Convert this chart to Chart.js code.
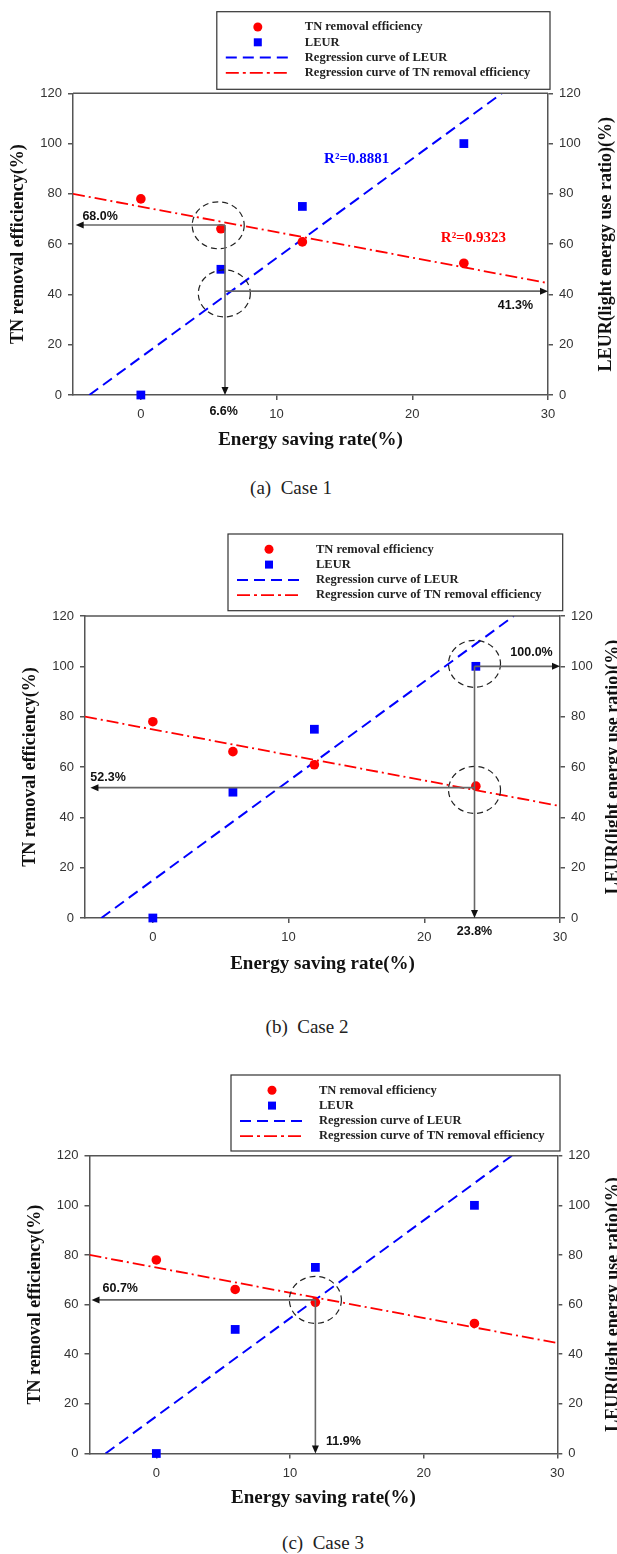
<!DOCTYPE html>
<html>
<head>
<meta charset="utf-8">
<title>TN removal efficiency and LEUR vs energy saving rate</title>
<script src="https://cdn.jsdelivr.net/npm/chart.js@4.4.1/dist/chart.umd.min.js"></script>
<style>
  html, body { margin: 0; padding: 0; background: #fff; }
  body { position: relative; width: 617px; height: 1554px; overflow: hidden; }
  canvas { position: absolute; left: 0; }
  .caption {
    position: absolute;
    transform: translate(-50%, -50%);
    font-family: "Liberation Serif", serif;
    font-size: 19px;
    color: #222;
    white-space: nowrap;
  }
</style>
</head>
<body>
<canvas id="case1" width="617" height="470" style="top:0px"></canvas>
<canvas id="case2" width="617" height="470" style="top:520px"></canvas>
<canvas id="case3" width="617" height="470" style="top:1060px"></canvas>
<div class="caption" style="left:291px;top:488px">(a)&nbsp;&nbsp;Case 1</div>
<div class="caption" style="left:307px;top:1027px">(b)&nbsp;&nbsp;Case 2</div>
<div class="caption" style="left:323px;top:1543px">(c)&nbsp;&nbsp;Case 3</div>
<script>
"use strict";

// measured points (same in all three cases)
const energySaving = [0, 5.9, 11.9, 23.8];
const tnRemoval = [78, 66.1, 60.9, 52.4];
const leurValues = [0, 50, 75, 100];

// regression lines, end points
const leurFitX = [-3.8, 26.6];
const leurFitY = [0, 120];
const tnFitX = [-5, 30];
const tnFitY = [80, 44.5];

const xTickValues = [0, 10, 20, 30];
const yTickValues = [0, 20, 40, 60, 80, 100, 120];

const legendLabels = ["TN removal efficiency", "LEUR", "Regression curve of LEUR", "Regression curve of TN removal efficiency"];
const xTitle = "Energy saving rate(%)";
const yTitle = "TN removal efficiency(%)";
const y2Title = "LEUR(light energy use ratio)(%)";

// guide arrows [x from, y from, x to, y to], circles [x, y], labels [text, x, y] (axis units)
const case1Arrows = [[6.2, 67.6, 6.2, 0], [6.2, 67.6, -4.8, 67.6], [6.2, 41.3, 30, 41.3]];
const case1Circles = [[5.7, 67.5], [6.15, 40.4]];
const case1Labels = [["68.0%", -3.0, 71.1], ["6.6%", 6.1, -6.4], ["41.3%", 27.6, 35.4]];
const case1Fits = [["R²=0.8881", 15.9, 93.8], ["R²=0.9323", 24.5, 62.4]];

const case2Arrows = [[23.7, 100, 23.7, 0], [23.7, 100, 30, 100], [23.7, 51.8, -4.6, 51.8]];
const case2Circles = [[23.7, 101], [23.7, 50.9]];
const case2Labels = [["100.0%", 27.9, 105.6], ["52.3%", -3.3, 56.0], ["23.8%", 23.7, -5.4]];

const case3Arrows = [[11.9, 61.9, 11.9, 0], [11.9, 61.9, -4.85, 61.9]];
const case3Circles = [[11.9, 61.9]];
const case3Labels = [["60.7%", -2.7, 66.6], ["11.9%", 14.0, 5.0]];

const red = "#ff0000";
const blue = "#0000ff";
const axisColor = "#555";
const serif = "'Liberation Serif', 'Times New Roman', serif";
const sans = "'Liberation Sans', Arial, sans-serif";
const canvasH = 470;

Chart.defaults.font.family = sans;

// plot box in canvas pixels, per panel
const panels = [
    { id: "case1", top: 93.3, bottom: 395, left: 73, right: 548, yTitleX: 18, y2TitleX: 606.7, xTitleY: 440,
      legend: [216.8, 11.7, 550, 89.3], arrows: case1Arrows, circles: case1Circles, labels: case1Labels, fits: case1Fits },
    { id: "case2", top: 96, bottom: 398, left: 85, right: 560, yTitleX: 30, y2TitleX: 613.3, xTitleY: 444,
      legend: [228, 14, 562.7, 90.7], arrows: case2Arrows, circles: case2Circles, labels: case2Labels, fits: [] },
    { id: "case3", top: 95.7, bottom: 393.5, left: 89.5, right: 557.3, yTitleX: 35.4, y2TitleX: 613.3, xTitleY: 438.3,
      legend: [231, 15, 560, 91], arrows: case3Arrows, circles: case3Circles, labels: case3Labels, fits: [] },
];
const panelById = {};
panels.forEach((p) => (panelById[p.id] = p));

function drawArrow(ctx, ax, ay, bx, by) {
    const ang = Math.atan2(by - ay, bx - ax);
    const c = Math.cos(ang);
    const s = Math.sin(ang);
    ctx.strokeStyle = "#666";
    ctx.lineWidth = 1.6;
    ctx.beginPath();
    ctx.moveTo(ax, ay);
    ctx.lineTo(bx - 6 * c, by - 6 * s);
    ctx.stroke();
    ctx.fillStyle = "#111";
    ctx.beginPath();
    ctx.moveTo(bx, by);
    ctx.lineTo(bx - 8 * c + 3.5 * s, by - 8 * s - 3.5 * c);
    ctx.lineTo(bx - 8 * c - 3.5 * s, by - 8 * s + 3.5 * c);
    ctx.closePath();
    ctx.fill();
}

const guidePlugin = {
    id: "guides",
    afterDatasetsDraw(chart) {
        const p = panelById[chart.canvas.id];
        const ctx = chart.ctx;
        const area = chart.chartArea;
        const px = (v) => chart.scales.x.getPixelForValue(v);
        const py = (v) => chart.scales.y.getPixelForValue(v);

        ctx.save();
        // top frame line
        ctx.strokeStyle = axisColor;
        ctx.lineWidth = 1.5;
        ctx.beginPath();
        ctx.moveTo(area.left, area.top);
        ctx.lineTo(area.right, area.top);
        ctx.stroke();

        // dashed circles
        ctx.strokeStyle = "#222";
        ctx.lineWidth = 1.2;
        ctx.setLineDash([6, 4]);
        p.circles.forEach(([cx, cy]) => {
            ctx.beginPath();
            ctx.ellipse(px(cx), py(cy), 26, 23.5, 0, 0, Math.PI * 2);
            ctx.stroke();
        });
        ctx.setLineDash([]);

        p.arrows.forEach(([x0, y0, x1, y1]) => drawArrow(ctx, px(x0), py(y0), px(x1), py(y1)));

        ctx.textAlign = "center";
        ctx.textBaseline = "middle";
        ctx.font = "bold 12.5px " + sans;
        ctx.fillStyle = "#111";
        p.labels.forEach(([t, lx, ly]) => ctx.fillText(t, px(lx), py(ly)));

        ctx.font = "bold 15px " + serif;
        p.fits.forEach(([t, lx, ly], i) => {
            ctx.fillStyle = i === 0 ? blue : red;
            ctx.fillText(t, px(lx), py(ly));
        });
        ctx.restore();
    },
    afterDraw(chart) {
        const p = panelById[chart.canvas.id];
        const ctx = chart.ctx;
        const area = chart.chartArea;

        // right axis title, reading upwards
        ctx.save();
        ctx.translate(p.y2TitleX, (area.top + area.bottom) / 2);
        ctx.rotate(-Math.PI / 2);
        ctx.font = "bold 18px " + serif;
        ctx.fillStyle = "#111";
        ctx.textAlign = "center";
        ctx.textBaseline = "middle";
        ctx.fillText(y2Title, 0, 0);
        ctx.restore();

        // legend box
        const [l, t, r, b] = p.legend;
        ctx.save();
        ctx.fillStyle = "#fff";
        ctx.fillRect(l, t, r - l, b - t);
        ctx.strokeStyle = "#333";
        ctx.lineWidth = 1.2;
        ctx.strokeRect(l, t, r - l, b - t);
        ctx.font = "bold 12.5px " + serif;
        ctx.textAlign = "left";
        ctx.textBaseline = "middle";
        legendLabels.forEach((label, i) => {
            const y = t + 15.3 + i * 15.3;
            const mx = l + 41;
            if (i === 0) {
                ctx.fillStyle = red;
                ctx.beginPath();
                ctx.arc(mx, y, 4.5, 0, Math.PI * 2);
                ctx.fill();
            } else if (i === 1) {
                ctx.fillStyle = blue;
                ctx.fillRect(mx - 4, y - 4, 8, 8);
            } else {
                ctx.strokeStyle = i === 2 ? blue : red;
                ctx.lineWidth = i === 2 ? 2 : 1.8;
                ctx.setLineDash(i === 2 ? [11, 6] : [13, 4, 3, 4]);
                ctx.beginPath();
                ctx.moveTo(l + 9, y);
                ctx.lineTo(l + 72, y);
                ctx.stroke();
                ctx.setLineDash([]);
            }
            ctx.fillStyle = "#222";
            ctx.fillText(label, l + 88, y);
        });
        ctx.restore();
    },
};

function axisStyle() {
    return {
        grid: { display: true, drawOnChartArea: false, drawTicks: true, tickLength: 5, color: axisColor, lineWidth: 1.5 },
        border: { display: true, color: axisColor, width: 1.5 },
    };
}

function makeChart(p) {
    const tnPoints = energySaving.map((x, i) => ({ x: x, y: tnRemoval[i] }));
    const leurPoints = energySaving.map((x, i) => ({ x: x, y: leurValues[i] }));
    const leurFit = leurFitX.map((x, i) => ({ x: x, y: leurFitY[i] }));
    const tnFit = tnFitX.map((x, i) => ({ x: x, y: tnFitY[i] }));

    return new Chart(document.getElementById(p.id), {
        type: "scatter",
        data: {
            datasets: [
                {
                    label: legendLabels[0],
                    data: tnPoints,
                    yAxisID: "y",
                    pointStyle: "circle",
                    pointRadius: 4.8,
                    backgroundColor: red,
                    borderColor: red,
                    borderWidth: 0,
                    clip: false,
                },
                {
                    label: legendLabels[1],
                    data: leurPoints,
                    yAxisID: "y2",
                    pointStyle: "rect",
                    pointRadius: 6.2,
                    backgroundColor: blue,
                    borderColor: blue,
                    borderWidth: 0,
                    clip: false,
                },
                {
                    label: legendLabels[2],
                    data: leurFit,
                    yAxisID: "y2",
                    showLine: true,
                    pointRadius: 0,
                    borderColor: blue,
                    borderWidth: 2,
                    borderDash: [11, 6],
                },
                {
                    label: legendLabels[3],
                    data: tnFit,
                    yAxisID: "y",
                    showLine: true,
                    pointRadius: 0,
                    borderColor: red,
                    borderWidth: 1.8,
                    borderDash: [12, 4, 2, 4],
                },
            ],
        },
        options: {
            responsive: false,
            animation: false,
            events: [],
            layout: { padding: { top: p.top, left: 0, right: 0, bottom: 0 } },
            plugins: {
                legend: { display: false },
                tooltip: { enabled: false },
            },
            scales: {
                x: {
                    type: "linear",
                    position: "bottom",
                    min: -5,
                    max: 30,
                    ...axisStyle(),
                    afterBuildTicks: (s) => {
                        s.ticks = xTickValues.map((v) => ({ value: v }));
                    },
                    afterFit: (s) => {
                        s.height = canvasH - p.bottom;
                    },
                    ticks: { color: "#333", padding: 7, font: { size: 13 } },
                    title: {
                        display: true,
                        text: xTitle,
                        color: "#111",
                        font: { family: serif, size: 19, weight: "bold", lineHeight: 1 },
                        padding: { top: 0, bottom: canvasH - p.xTitleY - 9.5 },
                    },
                },
                y: {
                    type: "linear",
                    position: "left",
                    min: 0,
                    max: 120,
                    ...axisStyle(),
                    afterBuildTicks: (s) => {
                        s.ticks = yTickValues.map((v) => ({ value: v }));
                    },
                    afterFit: (s) => {
                        s.width = p.left;
                    },
                    ticks: { color: "#333", padding: 6, font: { size: 13 } },
                    title: {
                        display: true,
                        text: yTitle,
                        color: "#111",
                        font: { family: serif, size: 18, weight: "bold", lineHeight: 1 },
                        padding: { top: p.yTitleX - 9, bottom: 0 },
                    },
                },
                y2: {
                    type: "linear",
                    position: "right",
                    min: 0,
                    max: 120,
                    ...axisStyle(),
                    afterBuildTicks: (s) => {
                        s.ticks = yTickValues.map((v) => ({ value: v }));
                    },
                    afterFit: (s) => {
                        s.width = 617 - p.right;
                    },
                    ticks: { color: "#333", padding: 6, font: { size: 13 } },
                },
            },
        },
        plugins: [guidePlugin],
    });
}

panels.forEach(makeChart);
</script>
</body>
</html>
